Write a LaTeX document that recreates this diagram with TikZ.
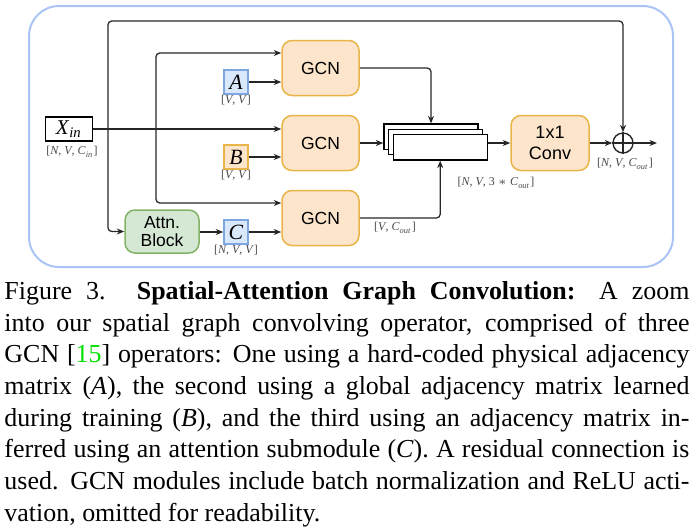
\documentclass[tikz,border=0pt]{standalone}
\usepackage{fontspec}
\setmainfont{Liberation Serif}
\newfontfamily\dsans{Liberation Sans}
\usetikzlibrary{arrows.meta}
\definecolor{outerB}{HTML}{A9C4F5}
\definecolor{orF}{HTML}{FDE5CB}
\definecolor{orD}{HTML}{E9B549}
\definecolor{blF}{HTML}{DAE8FC}
\definecolor{blD}{HTML}{7EA6E0}
\definecolor{grF}{HTML}{D5E8D4}
\definecolor{grD}{HTML}{82B366}
\definecolor{lblC}{HTML}{4A4A4A}
\definecolor{lineC}{HTML}{262626}
\definecolor{citeG}{HTML}{00E000}
\newcommand{\ii}[1]{\textit{#1}}
\begin{document}
\begin{tikzpicture}[x=0.4pt,y=-0.4pt,
  gcnbox/.style={draw=orD, fill=orF, line width=0.6pt, rounded corners=4pt,
    minimum width=30.8pt, minimum height=22pt, inner sep=0pt,
    font=\dsans\fontsize{7}{8}\selectfont, align=center},
  matbox/.style={draw, line width=0.6pt, minimum size=9.6pt, inner sep=0pt,
    font=\fontsize{8.7}{9}\selectfont\itshape},
  lbl/.style={font=\fontsize{4.8}{5.6}\selectfont, text=lblC, inner sep=0pt},
  conn/.style={draw=lineC, line width=0.5pt, -{Stealth[length=3pt,width=2.4pt]}},
  stackbox/.style={draw=black, fill=white, line width=0.55pt, minimum width=37.6pt,
    minimum height=10.1pt, inner sep=0pt}]
\useasboundingbox (0,0) rectangle (700,527);

% outer frame
\draw[outerB, line width=0.8pt, rounded corners=12pt] (29,6) rectangle (673,267);

% nodes
\node[draw, line width=0.6pt, minimum width=18.8pt, minimum height=9.6pt, inner sep=0pt,
  font=\fontsize{8.4}{9}\selectfont] (xin) at (69,129) {\ii{X}\textsubscript{\ii{in}}};
\node[lbl] (xinl) at (72,152) {[\ii{N}, \ii{V}, \ii{C}\textsubscript{\ii{in}}]};

\node[gcnbox] (g1) at (320.5,68) {GCN};
\node[gcnbox] (g2) at (320.5,143) {GCN};
\node[gcnbox] (g3) at (320.5,218) {GCN};

\node[matbox, draw=blD, fill=blF] (A) at (236,82) {A};
\node[lbl] (Al) at (236,100) {[\ii{V}, \ii{V}]};
\node[matbox, draw=orD, fill=orF] (B) at (236,157) {B};
\node[lbl] (Bl) at (236,175) {[\ii{V}, \ii{V}]};
\node[matbox, draw=blD, fill=blF] (C) at (236,232) {C};
\node[lbl] (Cl) at (236,250) {[\ii{N}, \ii{V}, \ii{V}]};

\node[draw=grD, fill=grF, line width=0.6pt, rounded corners=4pt, minimum width=29.6pt,
  minimum height=17.2pt, inner sep=0pt, align=center,
  font=\dsans\fontsize{7}{7.4}\selectfont] (att) at (162,231.5) {Attn.\\Block};

\node[stackbox] (s1) at (431,136.7) {};
\node[stackbox] (s2) at (435.8,142) {};
\node[stackbox] (s3) at (440.2,147.3) {};

\node[gcnbox, minimum width=31.2pt, font=\dsans\fontsize{7.2}{8.2}\selectfont] (conv) at (550,143) {1x1\\Conv};
\node[draw=lineC, line width=0.55pt, circle, minimum size=8pt, inner sep=0pt] (op) at (623,143) {};
\draw[lineC, line width=0.5pt] (op.north) -- (op.south) (op.west) -- (op.east);

\node[lbl] (l1) at (395,228) {[\ii{V}, \ii{C}\textsubscript{\ii{out}}]};
\node[lbl] (l2) at (496,183) {[\ii{N}, \ii{V}, 3 $\ast$ \ii{C}\textsubscript{\ii{out}}]};
\node[lbl] (l3) at (625,164) {[\ii{N}, \ii{V}, \ii{C}\textsubscript{\ii{out}}]};

% coordinates
\coordinate (j1) at (108,129);
\coordinate (rt) at (623,21);
\coordinate (vtop) at (156,53);
\coordinate (vbot) at (156,203);
\coordinate (out) at (657,143);

% connectors
\draw[conn] (xin.east) -- (xin.east -| g2.west);
\draw[conn, rounded corners=1.5pt] (j1) |- (rt) -- (op.north);
\draw[conn, rounded corners=1.5pt] (j1) |- (att.west);
\draw[conn, {Stealth[length=3pt,width=2.4pt]}-{Stealth[length=3pt,width=2.4pt]}, rounded corners=1.5pt]
  (vtop -| g1.west) -- (vtop) -- (vbot) -- (vbot -| g3.west);
\draw[conn] (A.east) -- (A.east -| g1.west);
\draw[conn] (B.east) -- (B.east -| g2.west);
\draw[conn] (C.east) -- (C.east -| g3.west);
\draw[conn] (att.east |- C.east) -- (C.west);

\draw[conn, rounded corners=1.5pt] (g1.east) -| (s1.north);
\draw[conn] (g2.east) -- (g2.east -| s1.west);
\draw[conn, rounded corners=1.5pt] (g3.east) -| (s3.south);
\draw[conn] (s3.east |- conv.west) -- (conv.west);
\draw[conn] (conv.east) -- (op.west);
\draw[conn] (op.east) -- (out);

% caption
\node[anchor=north west, inner sep=0pt, text width=274pt, align=justify,
  font=\fontsize{10.37}{12.68}\selectfont] (cap) at (4,281)
{\tolerance=9999\emergencystretch=2em\nonfrenchspacing
Figure 3. \textbf{Spatial-Attention Graph Convolution:} A zoom\linebreak
into our spatial graph convolving operator, comprised of three\linebreak
GCN [\textcolor{citeG}{15}] operators: One using a hard-coded physical adjacency\linebreak
matrix (\ii{A}), the second using a global adjacency matrix learned\linebreak
during training (\ii{B}), and the third using an adjacency matrix in-\linebreak
ferred using an attention submodule (\ii{C}). A residual connection is\linebreak
used. GCN modules include batch normalization and ReLU acti-\linebreak
vation, omitted for readability.};
\end{tikzpicture}
\end{document}
